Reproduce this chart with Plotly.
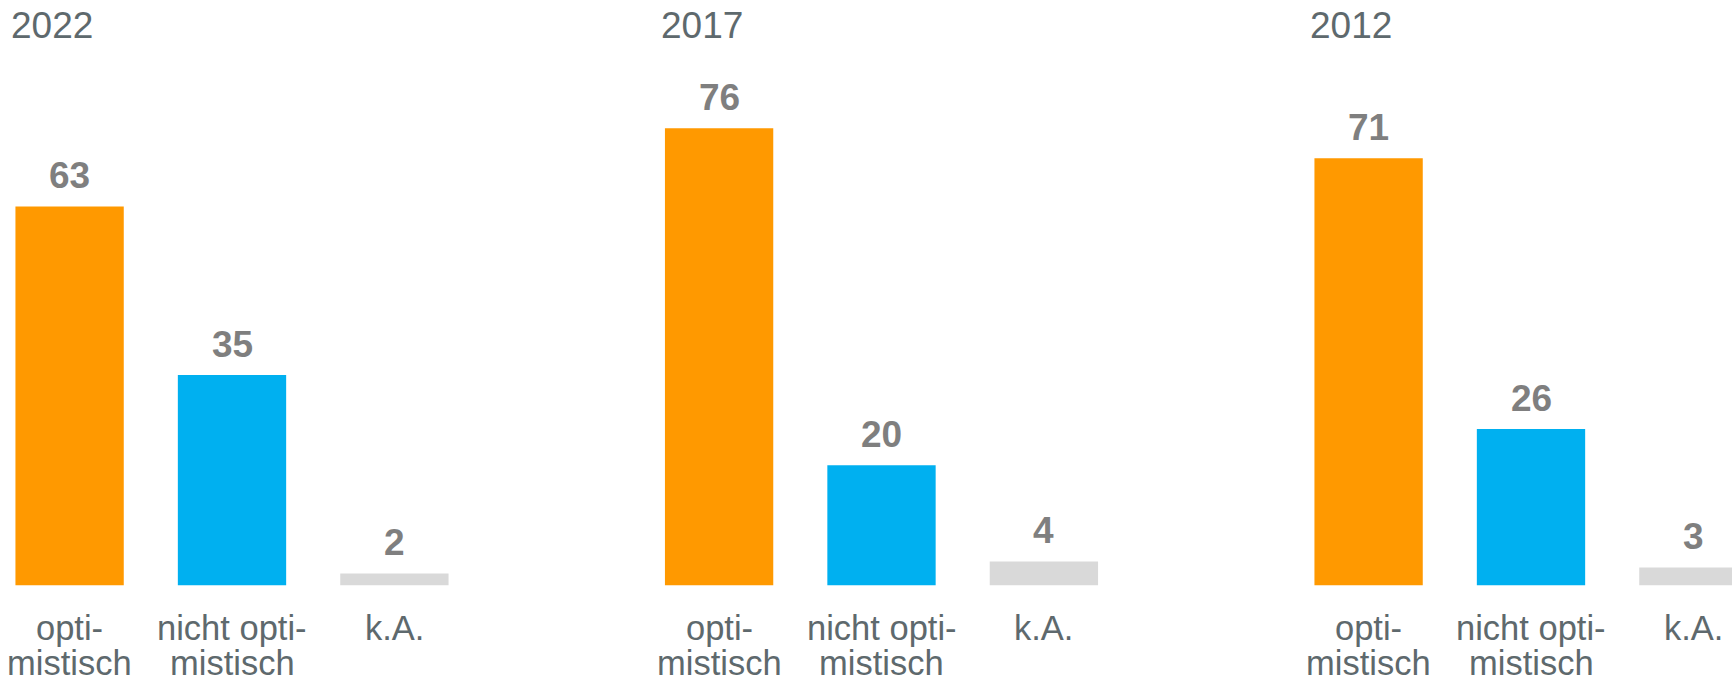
import plotly.graph_objects as go

# ---- data ----
years = ["2022", "2017", "2012"]
categories = ["opti-<br>mistisch", "nicht opti-<br>mistisch", "k.A."]
values_2022 = [63, 35, 2]
values_2017 = [76, 20, 4]
values_2012 = [71, 26, 3]
all_values = [values_2022, values_2017, values_2012]

# ---- style ----
bar_colors = ["#FF9900", "#00B0F0", "#D9D9D9"]
label_color = "#7F7F7F"
text_color = "#5E696D"
FONT = "Liberation Sans, Arial, sans-serif"

W, H = 1732, 681
band = 162.4            # px per category
first_center = 69.6     # px centre of the first bar of panel 1
panel_pitch = 649.5     # px between panels
y_bottom_px = 585.5     # px of the baseline from top
px_per_unit = 6.016

domains_px = [(0, 560), (600, 1200), (1250, W)]

YEAR_SIZE = 37
VALUE_SIZE = 37
CAT_SIZE = 34.5

fig = go.Figure()
annotations = []
for i, (year, vals) in enumerate(zip(years, all_values)):
    xa = "x" if i == 0 else f"x{i+1}"
    ya = "y" if i == 0 else f"y{i+1}"
    fig.add_trace(go.Bar(
        x=categories, y=vals, xaxis=xa, yaxis=ya,
        marker=dict(color=bar_colors, line=dict(width=0)),
        width=0.667, showlegend=False, hoverinfo="x+y",
    ))
    d0, d1 = domains_px[i]
    c0 = first_center + i * panel_pitch
    r0 = (d0 - c0) / band
    r1 = r0 + (d1 - d0) / band
    ax_key = "xaxis" if i == 0 else f"xaxis{i+1}"
    ay_key = "yaxis" if i == 0 else f"yaxis{i+1}"
    fig.update_layout({
        ax_key: dict(domain=[d0 / W, d1 / W], range=[r0, r1], type="category",
                     showticklabels=False, showgrid=False, zeroline=False,
                     showline=False, ticks="", anchor=ya, fixedrange=True),
        ay_key: dict(domain=[(H - y_bottom_px) / H, 1],
                     range=[0, y_bottom_px / px_per_unit],
                     showticklabels=False, showgrid=False, zeroline=False,
                     showline=False, ticks="", anchor=xa, fixedrange=True),
    })
    # year title (baseline ~38 px)
    annotations.append(dict(
        text=year, xref=xa, yref="paper", x=(9.0 - first_center) / band,
        y=1 - (38.8 - 0.905 * YEAR_SIZE - 2) / H,
        xanchor="left", yanchor="top", showarrow=False,
        font=dict(family=FONT, size=YEAR_SIZE, color=text_color)))
    # value labels
    for j, v in enumerate(vals):
        annotations.append(dict(
            text=f"<b>{v}</b>", xref=xa, yref=ya, x=j, y=v,
            xanchor="center", yanchor="bottom", yshift=8, showarrow=False,
            font=dict(family=FONT, size=VALUE_SIZE, color=label_color)))
    # category labels (two lines)
    for j, cat in enumerate(categories):
        lines = cat.split("<br>")
        baselines = [640.0, 675.0]
        for k, line in enumerate(lines):
            top_px = baselines[k] - 0.905 * CAT_SIZE
            annotations.append(dict(
                text=line, xref=xa, yref="paper", x=j, y=1 - top_px / H,
                xanchor="center", yanchor="top", showarrow=False,
                borderpad=0, borderwidth=0,
                font=dict(family=FONT, size=CAT_SIZE, color=text_color)))

fig.update_layout(
    width=W, height=H,
    margin=dict(l=0, r=0, t=0, b=0),
    paper_bgcolor="white", plot_bgcolor="white",
    annotations=annotations,
    font=dict(family=FONT),
    bargap=0.333,
)

fig.write_html(
    "out.html",
    config={"displayModeBar": False},
    post_script="document.body.style.margin='0';document.body.style.overflow='hidden';",
)
